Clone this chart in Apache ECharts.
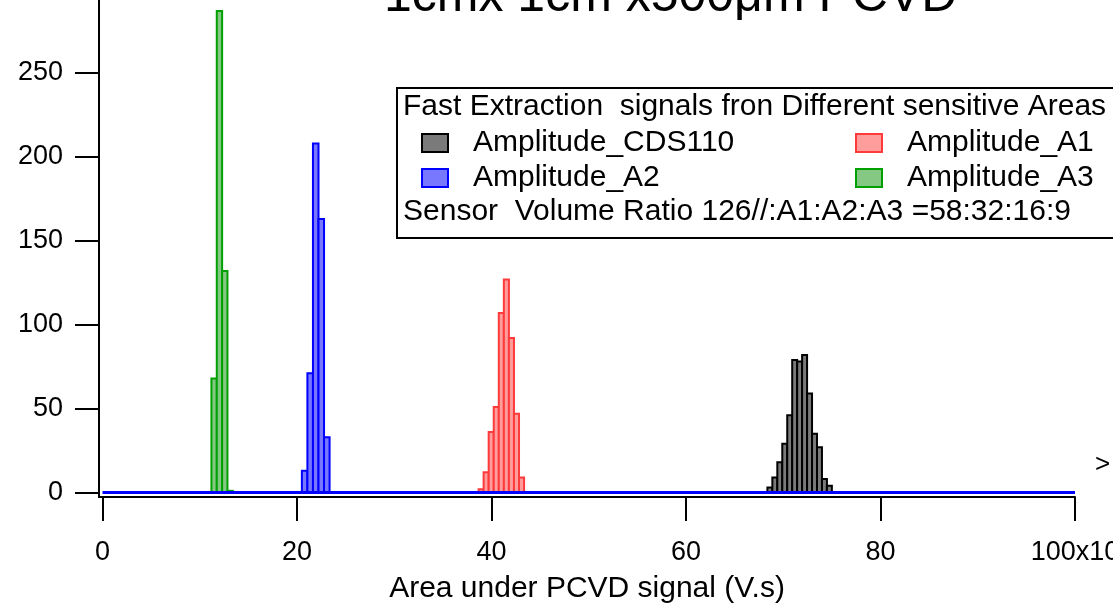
<!DOCTYPE html>
<html>
<head>
<meta charset="utf-8">
<script src="https://cdn.jsdelivr.net/npm/echarts@6/dist/echarts.min.js"></script>
<style>
html,body{margin:0;padding:0;background:#fff;}
#chart{width:1113px;height:605px;}
</style>
</head>
<body>
<div id="chart"></div>
<script>
// ---- data ----
const titleText = '1cmx 1cm x500\u03bcm PCVD';
const xAxisTitle = 'Area under PCVD signal (V.s)';
const legendHeader = 'Fast Extraction  signals fron Different sensitive Areas';
const legendFooter = 'Sensor  Volume Ratio 126//:A1:A2:A3 =58:32:16:9';

const xTicks = [0, 20, 40, 60, 80, 100];
const xTickLabels = ['0', '20', '40', '60', '80', '100x10'];
const yTicks = [0, 50, 100, 150, 200, 250];

// histogram bins: left edges, bin width, counts
const cdsEdges = [68.37, 68.88, 69.39, 69.90, 70.41, 70.92, 71.43, 71.94, 72.45, 72.96, 73.47, 73.98, 74.49];
const cdsWidth = 0.51;
const cdsCounts = [3, 9, 18, 29, 46, 79, 78, 82, 59, 35, 27, 8, 4];

const a1Edges = [38.67, 39.19, 39.71, 40.23, 40.75, 41.27, 41.79, 42.31, 42.83];
const a1Width = 0.52;
const a1Counts = [2, 12, 36, 51, 107, 127, 92, 47, 9];

const a2Edges = [20.50, 21.07, 21.64, 22.21, 22.78];
const a2Width = 0.57;
const a2Counts = [13, 71, 208, 163, 33];

const a3Edges = [11.20, 11.75, 12.30, 12.85];
const a3Width = 0.55;
const a3Counts = [68, 287, 132, 1];

const baselineX = [0, 100];
const baselineY = [0, 0];

// ---- chart ----
const FONT = 'Liberation Sans, Arial, sans-serif';
function bins(edges, width, counts) {
  return edges.map((e, i) => [e, e + width, counts[i]]);
}
function histSeries(name, data, fill, stroke) {
  return {
    name: name,
    type: 'custom',
    silent: true,
    z: 2,
    encode: { x: [0, 1], y: 2 },
    data: data,
    renderItem: function (params, api) {
      const p0 = api.coord([api.value(0), api.value(2)]);
      const p1 = api.coord([api.value(1), 0]);
      return {
        type: 'rect',
        shape: { x: p0[0], y: p0[1], width: p1[0] - p0[0], height: p1[1] - p0[1] },
        style: { fill: fill, stroke: stroke, lineWidth: 2 }
      };
    }
  };
}

const COL = {
  cds: { fill: '#7a7a7a', stroke: '#000000' },
  a1: { fill: '#ff9c9c', stroke: '#ff3a3a' },
  a2: { fill: '#7878ff', stroke: '#0000ff' },
  a3: { fill: '#84c884', stroke: '#00a000' }
};

function legendItem(name, c) {
  return { name: name, icon: 'rect', itemStyle: { color: c.fill, borderColor: c.stroke, borderWidth: 2 } };
}
const legendText = { fontSize: 30, color: '#000', fontFamily: FONT, lineHeight: 30, padding: [0, 0, 0, 20] };

const chart = echarts.init(document.getElementById('chart'), null, { renderer: 'canvas' });
chart.setOption({
  animation: false,
  backgroundColor: '#fff',
  title: {
    text: titleText,
    left: 384,
    top: -28,
    padding: 0,
    textStyle: { fontSize: 50, fontWeight: 'normal', color: '#000', fontFamily: FONT }
  },
  grid: { left: 99, right: 38, top: 0, bottom: 108, containLabel: false, outerBoundsMode: 'none' },
  xAxis: {
    type: 'value',
    min: -0.36,
    max: 100,
    name: xAxisTitle,
    nameLocation: 'middle',
    nameGap: 77,
    nameTextStyle: { fontSize: 30, color: '#000', fontFamily: FONT },
    axisLine: { show: true, onZero: false, lineStyle: { color: '#000', width: 2 } },
    axisTick: { show: true, inside: false, length: 24, lineStyle: { color: '#000', width: 2 }, customValues: xTicks },
    axisLabel: {
      customValues: xTicks,
      margin: 42,
      fontSize: 27,
      color: '#000',
      fontFamily: FONT,
      hideOverlap: false,
      formatter: function (v) { const i = xTicks.indexOf(v); return i >= 0 ? xTickLabels[i] : ''; }
    },
    splitLine: { show: false }
  },
  yAxis: {
    type: 'value',
    min: -2.68,
    max: 293.5,
    axisLine: { show: true, onZero: false, lineStyle: { color: '#000', width: 2 } },
    axisTick: { show: true, inside: false, length: 24, lineStyle: { color: '#000', width: 2 }, customValues: yTicks },
    axisLabel: { customValues: yTicks, margin: 36, fontSize: 27, color: '#000', fontFamily: FONT },
    splitLine: { show: false }
  },
  legend: [
    {
      orient: 'vertical', left: 421, top: 128, padding: 0, itemWidth: 26, itemHeight: 18, itemGap: 5,
      selectedMode: false, textStyle: legendText, z: 5,
      data: [legendItem('Amplitude_CDS110', COL.cds), legendItem('Amplitude_A2', COL.a2)]
    },
    {
      orient: 'vertical', left: 855, top: 128, padding: 0, itemWidth: 26, itemHeight: 18, itemGap: 5,
      selectedMode: false, textStyle: legendText, z: 5,
      data: [legendItem('Amplitude_A1', COL.a1), legendItem('Amplitude_A3', COL.a3)]
    }
  ],
  graphic: [
    { type: 'rect', z: 3, shape: { x: 397, y: 88, width: 800, height: 150 }, style: { fill: '#fff', stroke: '#000', lineWidth: 2 } },
    { type: 'text', z: 4, x: 403, y: 107, style: { text: legendHeader, fontSize: 30, fontFamily: FONT, fill: '#000', verticalAlign: 'middle' } },
    { type: 'text', z: 4, x: 403, y: 212, style: { text: legendFooter, fontSize: 30, fontFamily: FONT, fill: '#000', verticalAlign: 'middle' } },
    { type: 'text', z: 4, x: 1095, y: 465, style: { text: '>', fontSize: 26, fontFamily: FONT, fill: '#000', verticalAlign: 'middle' } }
  ],
  series: [
    histSeries('Amplitude_CDS110', bins(cdsEdges, cdsWidth, cdsCounts), COL.cds.fill, COL.cds.stroke),
    histSeries('Amplitude_A1', bins(a1Edges, a1Width, a1Counts), COL.a1.fill, COL.a1.stroke),
    histSeries('Amplitude_A2', bins(a2Edges, a2Width, a2Counts), COL.a2.fill, COL.a2.stroke),
    histSeries('Amplitude_A3', bins(a3Edges, a3Width, a3Counts), COL.a3.fill, COL.a3.stroke),
    {
      name: 'A2 baseline',
      type: 'line',
      silent: true,
      z: 3,
      symbol: 'none',
      data: baselineX.map((x, i) => [x, baselineY[i]]),
      lineStyle: { color: '#0000ff', width: 3 }
    }
  ]
});
</script>
</body>
</html>
